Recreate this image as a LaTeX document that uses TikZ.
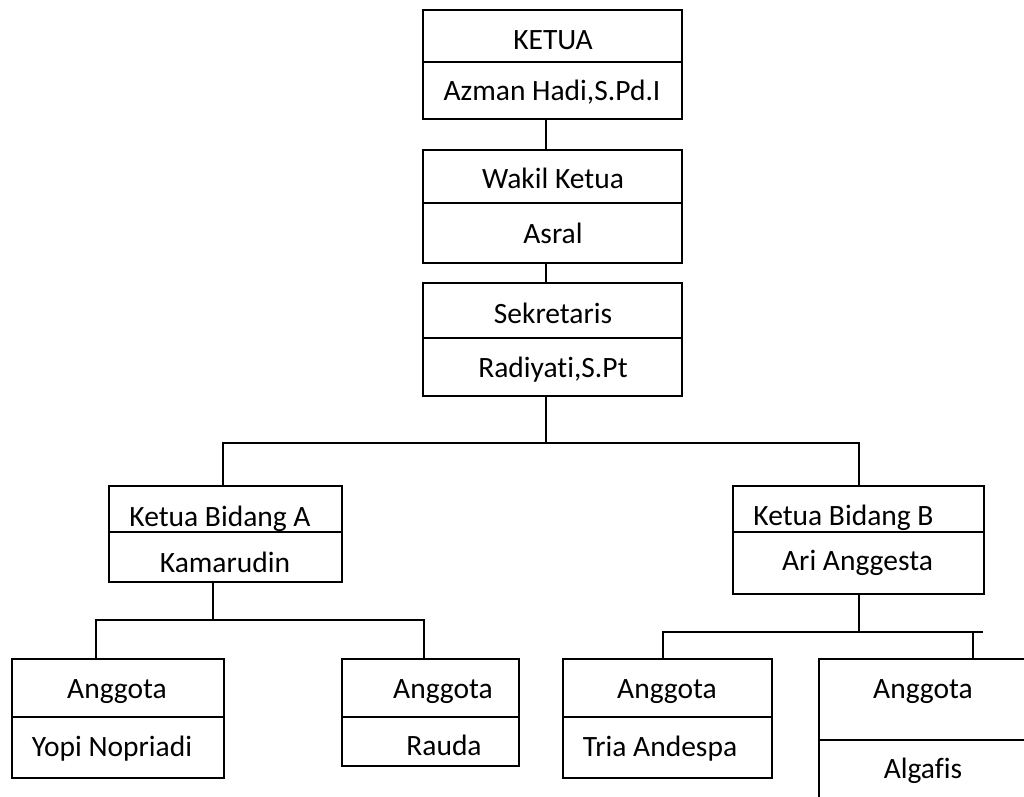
\documentclass[tikz,border=0pt]{standalone}
\usepackage{fontspec}
\setmainfont{Carlito}[Ligatures=NoCommon]
\usetikzlibrary{fit}
\begin{document}
\begin{tikzpicture}[x=1pt,y=-1pt,
  boxst/.style={draw, line width=2pt, inner sep=0pt, outer sep=0pt},
  wire/.style={line width=2pt},
  lbl/.style={anchor=base, inner sep=0pt, font=\fontsize{29.5}{33}\selectfont}]
\useasboundingbox (0,0) rectangle (1024,796);
\clip (0,0) rectangle (1024,796);
\fill[white] (0,0) rectangle (1024,796);
% boxes
\node[boxst, fit={(423,10)(682,62)}] (k1) {};
\node[boxst, fit={(423,62)(682,119)}] (k2) {};
\node[boxst, fit={(423,150)(682,203)}] (w1) {};
\node[boxst, fit={(423,203)(682,263)}] (w2) {};
\node[boxst, fit={(423,283)(682,338)}] (s1) {};
\node[boxst, fit={(423,338)(682,396)}] (s2) {};
\node[boxst, fit={(109,486)(342,532)}] (ka1) {};
\node[boxst, fit={(109,532)(342,582)}] (ka2) {};
\node[boxst, fit={(733,486)(984,532)}] (kb1) {};
\node[boxst, fit={(733,532)(984,594)}] (kb2) {};
\node[boxst, fit={(12,659)(224,717)}] (y1) {};
\node[boxst, fit={(12,717)(224,778)}] (y2) {};
\node[boxst, fit={(342,659)(519,717)}] (r1) {};
\node[boxst, fit={(342,717)(519,766)}] (r2) {};
\node[boxst, fit={(563,659)(772,717)}] (t1) {};
\node[boxst, fit={(563,717)(772,778)}] (t2) {};
\node[boxst, fit={(819,659)(1040,740)}] (a1) {};
\node[boxst, fit={(819,740)(1040,830)}] (a2) {};
% texts
\node[lbl] (tk1) at (553,49) {KETUA};
\node[lbl] (tk2) at (552,100) {Azman Hadi,S.Pd.I};
\node[lbl] (tw1) at (553,188) {Wakil Ketua};
\node[lbl] (tw2) at (553,243) {Asral};
\node[lbl] (ts1) at (553,323) {Sekretaris};
\node[lbl] (ts2) at (553,377) {Radiyati,S.Pt};
\node[lbl] (tka1) at (220,526) {Ketua Bidang A};
\node[lbl] (tka2) at (225,572) {Kamarudin};
\node[lbl] (tkb1) at (843.5,525) {Ketua Bidang B};
\node[lbl] (tkb2) at (857.5,570) {Ari Anggesta};
\node[lbl] (ty1) at (117,698) {Anggota};
\node[lbl] (ty2) at (112,756) {Yopi Nopriadi};
\node[lbl] (tr1) at (443,698) {Anggota};
\node[lbl] (tr2) at (444,755) {Rauda};
\node[lbl] (tt1) at (667,698) {Anggota};
\node[lbl] (tt2) at (660,756) {Tria Andespa};
\node[lbl] (ta1) at (923,698) {Anggota};
\node[lbl] (ta2) at (923,778) {Algafis};
% connector coordinates
\coordinate (cx) at (546,0);
\coordinate (busL) at (223,443);
\coordinate (busR) at (859,443);
\coordinate (aM) at (213,620);
\coordinate (aL) at (96,620);
\coordinate (aR) at (424,620);
\coordinate (bM) at (859,632);
\coordinate (bL) at (663,632);
\coordinate (bR) at (983,632);
\coordinate (bRv) at (973,632);
% connectors
\draw[wire] (k2.south -| cx) -- (w1.north -| cx);
\draw[wire] (w2.south -| cx) -- (s1.north -| cx);
\draw[wire] (s2.south -| cx) -- (cx |- busL);
\draw[wire] (ka1.north -| busL) -- (busL) -- (busR) -- (kb1.north -| busR);
\draw[wire] (ka2.south -| aM) -- (aM);
\draw[wire] (y1.north -| aL) -- (aL) -- (aR) -- (r1.north -| aR);
\draw[wire] (kb2.south -| bM) -- (bM);
\draw[wire] (t1.north -| bL) -- (bL) -- (bR);
\draw[wire] (bRv) -- (a1.north -| bRv);
\end{tikzpicture}
\end{document}
